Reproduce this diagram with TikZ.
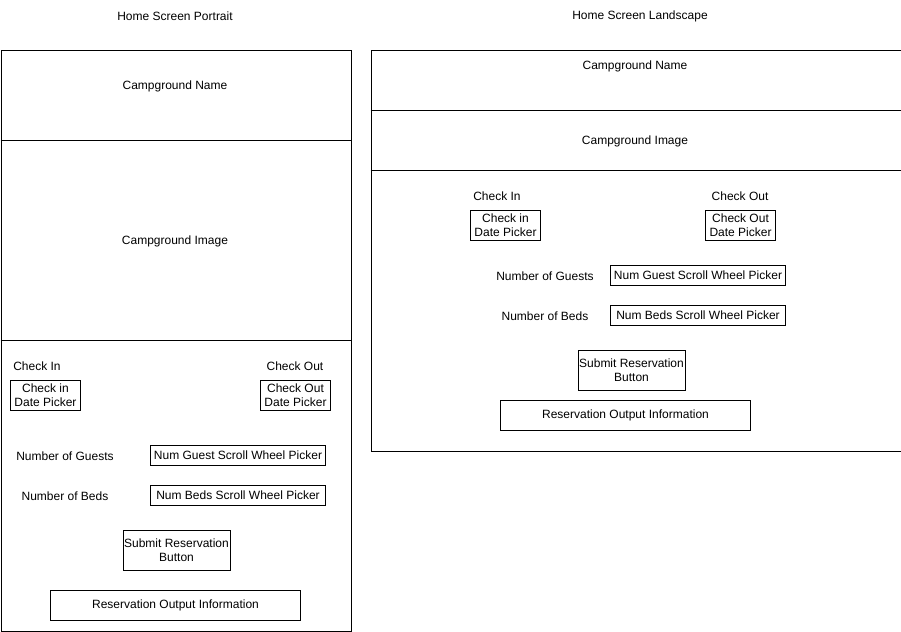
\documentclass[tikz,border=0pt]{standalone}
\usepackage{fontspec}
\setmainfont{Liberation Sans}
\begin{document}
\begin{tikzpicture}[x=1pt,y=-1pt,
  every node/.style={font=\fontsize{12}{14}\selectfont, inner sep=0pt},
  frame/.style={draw=black, line width=0.8pt},
  ctl/.style={draw=black, line width=0.8pt, align=center},
  lbl/.style={align=center, yshift=-1pt}]
\useasboundingbox[fill=white] (0,0) rectangle (901,631);
% Portrait
\node[lbl] (pt) at (175,15) {Home Screen Portrait};
\node[frame, minimum width=350, minimum height=580, anchor=north west] (pframe) at (0.5,50.5) {};
\coordinate (pl1a) at (0.5,140.5); \coordinate (pl1b) at (350.5,140.5);
\coordinate (pl2a) at (0.5,340.5); \coordinate (pl2b) at (350.5,340.5);
\draw[frame] (pl1a) -- (pl1b);
\draw[frame] (pl2a) -- (pl2b);
\node[lbl] (pname) at (175,85) {Campground Name};
\node[lbl] (pimg) at (175,240) {Campground Image};
\node[lbl] (pcin) at (37,365) {Check In};
\node[lbl] (pcout) at (295,365) {Check Out};
\node[ctl, minimum width=70, minimum height=30] (pcinb) at (45.5,395.5) {Check in\\Date Picker};
\node[ctl, minimum width=70, minimum height=30] (pcoutb) at (295.5,395.5) {Check Out\\Date Picker};
\node[lbl] (pguests) at (65,455) {Number of Guests};
\node[ctl, minimum width=175, minimum height=20] (pguestb) at (238,455.5) {Num Guest Scroll Wheel Picker};
\node[lbl] (pbeds) at (65,495) {Number of Beds};
\node[ctl, minimum width=175, minimum height=20] (pbedb) at (238,495.5) {Num Beds Scroll Wheel Picker};
\node[ctl, minimum width=107, minimum height=40] (psub) at (176.5,550.5) {Submit Reservation\\Button};
\node[ctl, minimum width=250, minimum height=30] (pout) at (175.5,605.5) {Reservation Output Information};
% Landscape
\node[lbl] (lt) at (640,15) {Home Screen Landscape};
\node[frame, minimum width=530, minimum height=400, anchor=north west] (lframe) at (370.5,50.5) {};
\coordinate (ll1a) at (370.5,110.5); \coordinate (ll1b) at (900.5,110.5);
\coordinate (ll2a) at (370.5,170.5); \coordinate (ll2b) at (900.5,170.5);
\draw[frame] (ll1a) -- (ll1b);
\draw[frame] (ll2a) -- (ll2b);
\node[lbl] (lname) at (635,65) {Campground Name};
\node[lbl] (limg) at (635,140) {Campground Image};
\node[lbl] (lcin) at (497,195) {Check In};
\node[lbl] (lcout) at (740,195) {Check Out};
\node[ctl, minimum width=70, minimum height=30] (lcinb) at (505.5,225.5) {Check in\\Date Picker};
\node[ctl, minimum width=70, minimum height=30] (lcoutb) at (740.5,225.5) {Check Out\\Date Picker};
\node[lbl] (lguests) at (545,275) {Number of Guests};
\node[ctl, minimum width=175, minimum height=20] (lguestb) at (698,275.5) {Num Guest Scroll Wheel Picker};
\node[lbl] (lbeds) at (545,315) {Number of Beds};
\node[ctl, minimum width=175, minimum height=20] (lbedb) at (698,315.5) {Num Beds Scroll Wheel Picker};
\node[ctl, minimum width=107, minimum height=40] (lsub) at (631.5,370.5) {Submit Reservation\\Button};
\node[ctl, minimum width=250, minimum height=30] (lout) at (625.5,415.5) {Reservation Output Information};
\end{tikzpicture}
\end{document}
